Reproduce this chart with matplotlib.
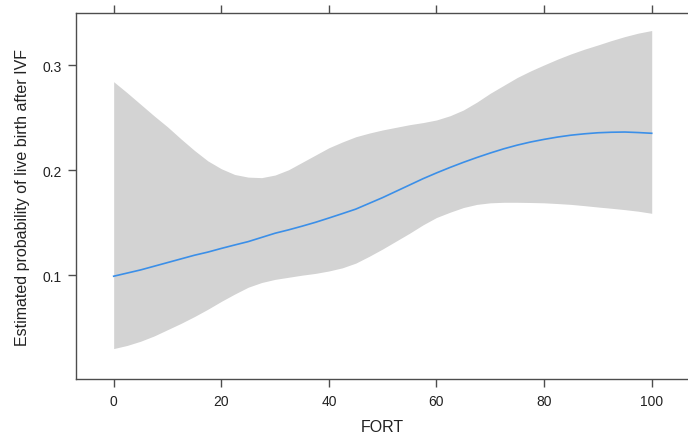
import numpy as np
import matplotlib
matplotlib.use("Agg")
import matplotlib.pyplot as plt

plt.rcParams['font.family'] = ['Liberation Sans', 'DejaVu Sans']

# values (every 2.5 units of FORT)
fort = [0, 2.5, 5, 7.5, 10, 12.5, 15, 17.5, 20, 22.5, 25, 27.5, 30, 32.5, 35, 37.5, 40,
        42.5, 45, 47.5, 50, 52.5, 55, 57.5, 60, 62.5, 65, 67.5, 70, 72.5, 75, 77.5, 80,
        82.5, 85, 87.5, 90, 92.5, 95, 97.5, 100]
fit = [0.099, 0.102, 0.105, 0.1085, 0.112, 0.1155, 0.119, 0.122, 0.1255, 0.1288, 0.132,
       0.136, 0.140, 0.1432, 0.1467, 0.1504, 0.1545, 0.1587, 0.163, 0.1685, 0.174, 0.180,
       0.186, 0.192, 0.1975, 0.2027, 0.2076, 0.2122, 0.2165, 0.2205, 0.224, 0.227, 0.2295,
       0.2317, 0.2335, 0.2348, 0.2358, 0.2363, 0.2365, 0.236, 0.2353]
upper = [0.2845, 0.274, 0.263, 0.252, 0.2415, 0.230, 0.219, 0.209, 0.2015, 0.196, 0.1935,
         0.193, 0.1955, 0.2005, 0.2075, 0.2145, 0.2215, 0.227, 0.232, 0.2355, 0.2385, 0.241,
         0.2435, 0.2455, 0.248, 0.252, 0.2575, 0.265, 0.2735, 0.281, 0.2885, 0.2948, 0.3005,
         0.306, 0.311, 0.3155, 0.3195, 0.3237, 0.3275, 0.3308, 0.3333]
lower = [0.030, 0.033, 0.037, 0.042, 0.048, 0.054, 0.0605, 0.0675, 0.075, 0.082, 0.0885,
         0.093, 0.096, 0.098, 0.100, 0.1017, 0.104, 0.107, 0.1115, 0.118, 0.125, 0.1325,
         0.140, 0.148, 0.155, 0.160, 0.1645, 0.1675, 0.169, 0.1695, 0.1695, 0.1693, 0.169,
         0.1683, 0.1675, 0.1663, 0.165, 0.1638, 0.1625, 0.161, 0.159]

xticks = [0, 20, 40, 60, 80, 100]
yticks = [0.1, 0.2, 0.3]

fig = plt.figure(figsize=(6.88, 4.39), dpi=100)
ax = fig.add_axes([76/688, 1 - 380/439, 1 - 76/688 + 0.002, (380 - 14)/439])

ax.fill_between(fort, lower, upper, color='#d3d3d3', linewidth=0)
ax.plot(fort, fit, color='#3b8fe8', linewidth=1.2)

ax.set_xlim(-7, 107)
ax.set_ylim(0.001, 0.350)

ax.set_xticks(xticks)
ax.set_xticklabels([str(t) for t in xticks])
ax.set_yticks(yticks)
ax.set_yticklabels(['0.1', '0.2', '0.3'])

axcol = '#4d4d4d'
for s in ax.spines.values():
    s.set_color(axcol)
    s.set_linewidth(1.0)
ax.tick_params(axis='both', direction='out', length=5.5, width=1.0, color=axcol,
               labelsize=10, labelcolor='#222222', pad=5)
ax.tick_params(axis='x', top=True, labeltop=False)
ax.tick_params(axis='y', right=True, labelright=False)

ax.set_xlabel('FORT', fontsize=11.5, color='#222222', labelpad=8)
ax.set_ylabel('Estimated probability of live birth after IVF', fontsize=11.5,
              color='#222222', labelpad=9)

fig.savefig('out.png', dpi=100)
